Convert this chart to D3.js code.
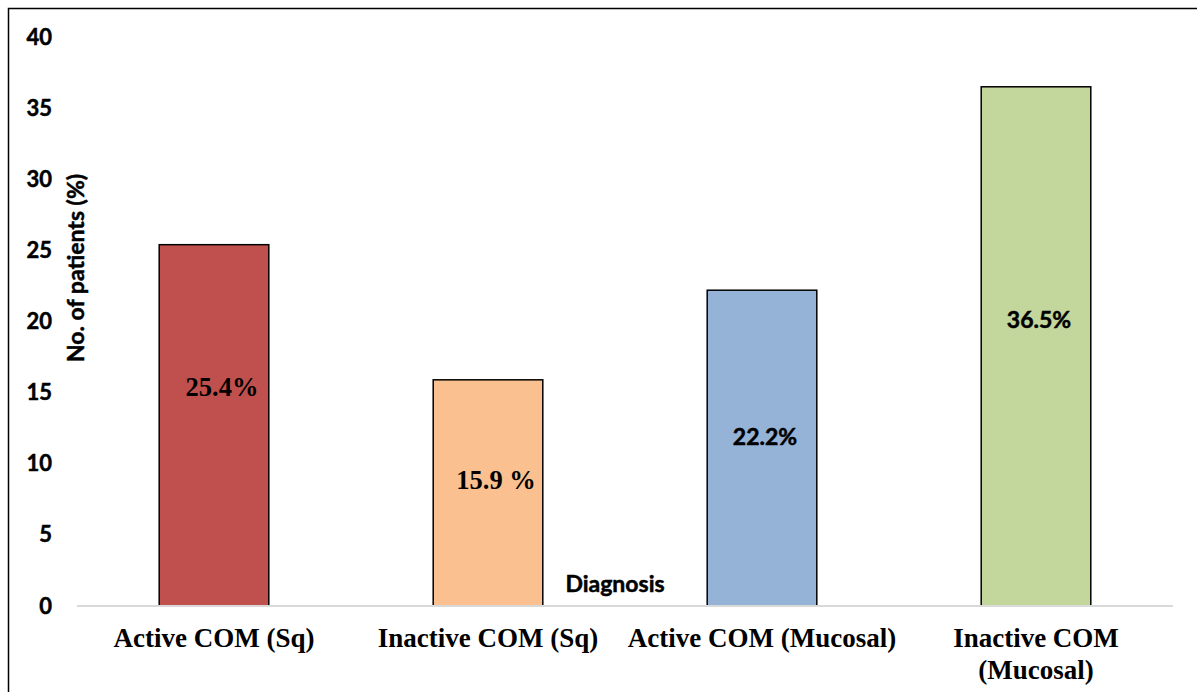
<!DOCTYPE html>
<html><head><meta charset="utf-8">
<script src="https://cdn.jsdelivr.net/npm/d3@7"></script>
<style>html,body{margin:0;padding:0;background:#fff;}svg{display:block;}</style>
</head><body>
<svg id="chart" width="1197" height="692"></svg>
<script>
const categories = [["Active COM (Sq)"], ["Inactive COM (Sq)"], ["Active COM (Mucosal)"], ["Inactive COM", "(Mucosal)"]];
const values = [25.4, 15.9, 22.2, 36.5];
const valueLabels = ["25.4%", "15.9 %", "22.2%", "36.5%"];
const labelAt = [15.4, 8.9, 11.9, 20.1];
const labelSerif = [true, true, false, false];
const colors = ["#C0504D", "#FAC090", "#95B3D7", "#C3D69B"];
const yTicks = [0, 5, 10, 15, 20, 25, 30, 35, 40];

const svg = d3.select("#chart");
const sans = "Lato, 'Open Sans', sans-serif";
const serif = "'Liberation Serif', 'Times New Roman', serif";
const heavy = sel => sel.attr("stroke", "#000").attr("stroke-width", 0.5);

// frame
svg.append("path").attr("d", "M8.5,692 V8.5 H1197").attr("fill", "none").attr("stroke", "#000").attr("stroke-width", 1.5);

const x = d3.scaleBand().domain(d3.range(categories.length)).range([77, 1173]).paddingInner(0.6).paddingOuter(0.3);
const y = d3.scaleLinear().domain([0, 40]).range([606, 37]);

// y tick labels
const yAxis = svg.append("g").attr("transform", "translate(52,0)")
  .call(d3.axisLeft(y).tickValues(yTicks).tickSize(0).tickPadding(0));
yAxis.select(".domain").remove();
yAxis.selectAll("text").attr("font-family", sans).attr("font-weight", "bold").attr("font-size", 22).attr("fill", "#000").call(heavy);

// axis title
svg.append("text").attr("transform", `translate(84,${268}) rotate(-90)`).attr("text-anchor", "middle")
  .attr("font-family", sans).attr("font-weight", "bold").attr("font-size", 23).call(heavy).text("No. of patients (%)");

// bars
svg.selectAll("rect.bar").data(values).join("rect").attr("class", "bar")
  .attr("x", (d, i) => x(i)).attr("width", x.bandwidth())
  .attr("y", d => y(d)).attr("height", d => y(0) - y(d))
  .attr("fill", (d, i) => colors[i]).attr("stroke", "#000").attr("stroke-width", 1.5);

// baseline
svg.append("line").attr("x1", 77).attr("x2", 1173).attr("y1", y(0)).attr("y2", y(0)).attr("stroke", "#D9D9D9").attr("stroke-width", 2);

// value labels
svg.selectAll("text.vl").data(values).join("text").attr("class", "vl")
  .attr("x", (d, i) => x(i) + x.bandwidth() / 2 + (labelSerif[i] ? 8 : 3))
  .attr("y", (d, i) => y(labelAt[i])).attr("dy", "0.35em").attr("text-anchor", "middle")
  .attr("font-family", (d, i) => labelSerif[i] ? serif : sans).attr("font-weight", "bold")
  .attr("stroke", (d, i) => labelSerif[i] ? "none" : "#000").attr("stroke-width", 0.5)
  .attr("font-size", (d, i) => labelSerif[i] ? 26.5 : 23).text((d, i) => valueLabels[i]);

// category labels
const cat = svg.selectAll("text.cat").data(categories).join("text").attr("class", "cat")
  .attr("text-anchor", "middle").attr("font-family", serif).attr("font-weight", "bold").attr("font-size", 27)
  .attr("transform", (d, i) => `translate(${x(i) + x.bandwidth() / 2},647)`);
cat.selectAll("tspan").data(d => d).join("tspan").attr("x", 0).attr("y", (d, j) => j * 32).text(d => d);

// x axis title
svg.append("text").attr("x", 615).attr("y", 592).attr("text-anchor", "middle")
  .attr("font-family", sans).attr("font-weight", "bold").attr("font-size", 23).call(heavy).text("Diagnosis");
</script>
</body></html>
